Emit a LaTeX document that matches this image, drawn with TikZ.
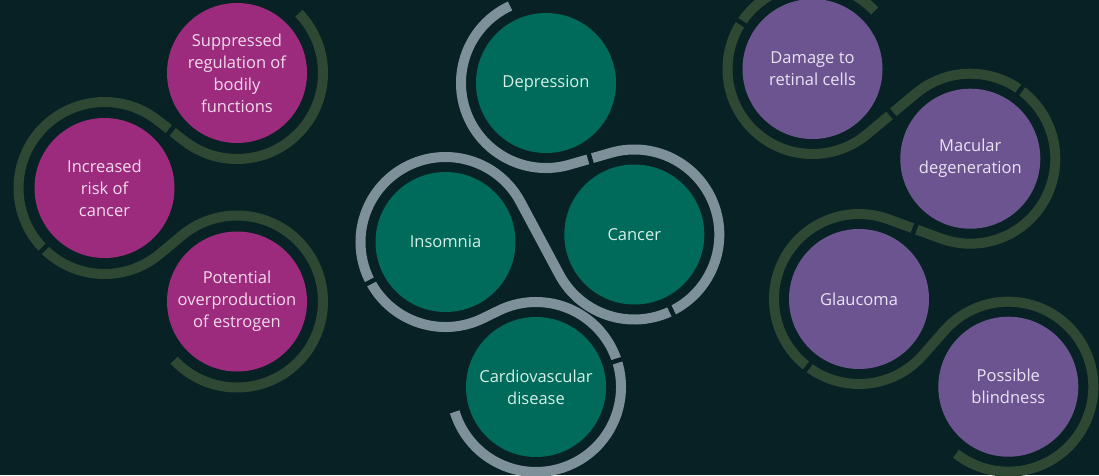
\documentclass[tikz,border=0pt]{standalone}
\usepackage{fontspec}
\setmainfont{Open Sans}
\usetikzlibrary{calc}

\definecolor{bg}{HTML}{082124}
\definecolor{rosefill}{HTML}{9C2B7E}
\definecolor{rosetext}{HTML}{F3DAEB}
\definecolor{tealfill}{HTML}{006B5B}
\definecolor{tealtext}{HTML}{D6F0E7}
\definecolor{violetfill}{HTML}{6C5490}
\definecolor{violettext}{HTML}{EAE3F3}
\definecolor{leafring}{HTML}{2F4833}
\definecolor{mistring}{HTML}{7E909A}

\begin{document}
\begin{tikzpicture}[x=1pt,y=1pt,
  bubble/.style={circle, minimum size=140pt, inner sep=0pt, align=center,
                 font=\fontsize{16.5}{22}\selectfont},
  rosebubble/.style={bubble, fill=rosefill, text=rosetext},
  tealbubble/.style={bubble, fill=tealfill, text=tealtext},
  violetbubble/.style={bubble, fill=violetfill, text=violettext},
  ring/.style={line width=10pt},
  cut/.style={draw=bg, line width=4.5pt},
]
\fill[bg] (0,0) rectangle (1099,-475);
\useasboundingbox (0,0) rectangle (1099,-475);

% ---------- left group ----------
\node[rosebubble] (supp) at (237,-73)    {Suppressed\\regulation of\\bodily\\functions};
\node[rosebubble] (risk) at (104.5,-188) {Increased\\risk of\\cancer};
\node[rosebubble] (estr) at (237,-301.5) {Potential\\overproduction\\of estrogen};

\draw[ring, draw=leafring]
  ($(supp.center)+(44:86)$) arc[start angle=44, end angle=-127.7, radius=86]
  -- ($(risk.center)+(52.3:86)$) arc[start angle=52.3, end angle=309.76, radius=86]
  -- ($(estr.center)+(129.76:86)$) arc[start angle=129.76, end angle=-137, radius=86];
\draw[cut] ($(supp.center)!0.5!(risk.center)+(52.3:8)$) -- ($(supp.center)!0.5!(risk.center)+(-127.7:8)$);
\draw[cut] ($(risk.center)+(225:78)$) -- ($(risk.center)+(225:94)$);

% ---------- middle group ----------
\node[tealbubble] (dep) at (546,-83)      {Depression};
\node[tealbubble] (can) at (634.3,-234.5) {Cancer};
\node[tealbubble] (ins) at (445.5,-242)   {Insomnia};
\node[tealbubble] (car) at (536,-387)     {Cardiovascular\\disease};

\draw[ring, draw=mistring]
  ($(dep.center)+(115:85)$) arc[start angle=115, end angle=286, radius=85]
  -- ($(can.center)+(106:85)$) arc[start angle=106, end angle=-151.87, radius=85]
  -- ($(ins.center)+(28.13:85)$) arc[start angle=28.13, end angle=296.02, radius=85]
  -- ($(car.center)+(116.02:85)$) arc[start angle=116.02, end angle=-163, radius=85];
\draw[cut] ($(dep.center)!0.5!(can.center)+(286:8)$) -- ($(dep.center)!0.5!(can.center)+(106:8)$);
\draw[cut] ($(can.center)+(-64:77)$) -- ($(can.center)+(-64:93)$);
\draw[cut] ($(ins.center)+(208:77)$) -- ($(ins.center)+(208:93)$);
\draw[cut] ($(car.center)+(18:77)$) -- ($(car.center)+(18:93)$);

% ---------- right group ----------
\node[violetbubble] (dmg) at (812.5,-69)    {Damage to\\retinal cells};
\node[violetbubble] (mac) at (970.3,-158.7) {Macular\\degeneration};
\node[violetbubble] (gla) at (859,-299)     {Glaucoma};
\node[violetbubble] (bli) at (1008.3,-386.7){Possible\\blindness};

\draw[ring, draw=leafring]
  ($(dmg.center)+(43:85)$) arc[start angle=43, end angle=309.88, radius=85]
  -- ($(mac.center)+(129.88:85)$) arc[start angle=129.88, end angle=-110.09, radius=85]
  -- ($(gla.center)+(69.91:85)$) arc[start angle=69.91, end angle=318.62, radius=85]
  -- ($(bli.center)+(138.62:85)$) arc[start angle=138.62, end angle=-128, radius=85];
\draw[cut] ($(dmg.center)+(147:77)$) -- ($(dmg.center)+(147:93)$);
\draw[cut] ($(dmg.center)!0.5!(mac.center)+(-50.12:8)$) -- ($(dmg.center)!0.5!(mac.center)+(129.88:8)$);
\draw[cut] ($(mac.center)+(54:77)$) -- ($(mac.center)+(54:93)$);
\draw[cut] ($(mac.center)!0.5!(gla.center)+(-110.09:8)$) -- ($(mac.center)!0.5!(gla.center)+(69.91:8)$);
\draw[cut] ($(gla.center)+(233:77)$) -- ($(gla.center)+(233:93)$);
\end{tikzpicture}
\end{document}
